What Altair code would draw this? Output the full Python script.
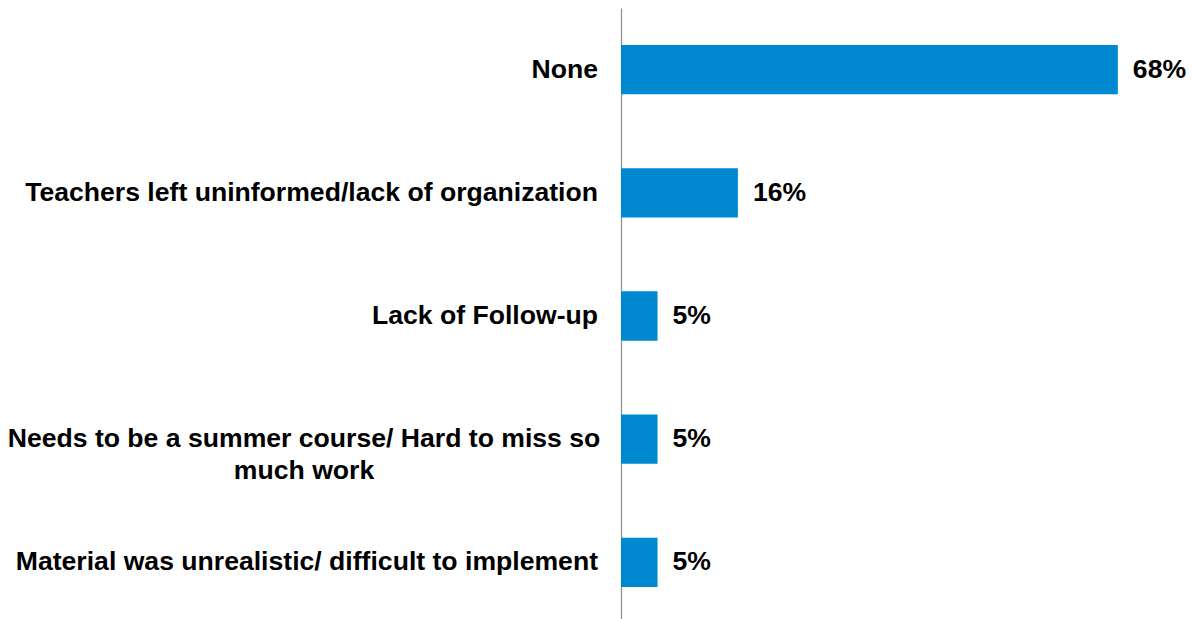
import altair as alt
import pandas as pd

categories = [
    "None",
    "Teachers left uninformed/lack of organization",
    "Lack of Follow-up",
    "Needs to be a summer course/ Hard to miss so \nmuch work",
    "Material was unrealistic/ difficult to implement",
]
values = [0.68, 0.16, 0.05, 0.05, 0.05]

df = pd.DataFrame({
    "category": categories,
    "value": values,
    "wrapped": ["\n" in c for c in categories],
})

FONT = "Liberation Sans"
BLUE = "#0089D1"
FS = 26.6

y_enc = alt.Y(
    "category:N",
    sort=categories,
    scale=alt.Scale(paddingInner=0.6, paddingOuter=0.3),
    axis=alt.Axis(labels=False, ticks=False, title=None, domain=True,
                  domainColor="#8c8c8c", domainWidth=1.2, grid=False),
)
x_enc = alt.X("value:Q", scale=alt.Scale(domain=[0, 0.75]), axis=None)

base = alt.Chart(df)

bars = base.mark_bar(color=BLUE).encode(x=x_enc, y=y_enc)

values_text = base.mark_text(
    align="left", baseline="middle", dx=15, font=FONT, fontSize=FS,
    fontWeight="bold", color="black",
).encode(x=x_enc, y=y_enc, text=alt.Text("value:Q", format=".0%"))

labels_single = base.transform_filter("!datum.wrapped").mark_text(
    align="right", baseline="middle", dx=-23, font=FONT, fontSize=FS,
    fontWeight="bold", color="black",
).encode(x=alt.value(0), y=y_enc, text="category:N")

labels_wrapped = base.transform_filter("datum.wrapped").mark_text(
    align="center", baseline="middle", dx=-317, font=FONT, fontSize=FS,
    fontWeight="bold", color="black", lineBreak="\n", lineHeight=32,
).encode(x=alt.value(0), y=y_enc, text="category:N")

chart = (
    alt.layer(bars, values_text, labels_single, labels_wrapped)
    .properties(
        width=548,
        height=616,
        background="white",
        autosize=alt.AutoSizeParams(type="none"),
        padding={"left": 613, "right": 17, "top": 0, "bottom": 0},
    )
    .configure_view(strokeWidth=0, stroke="transparent")
)

chart.save("out.html", embed_options={"renderer": "svg", "actions": False})
